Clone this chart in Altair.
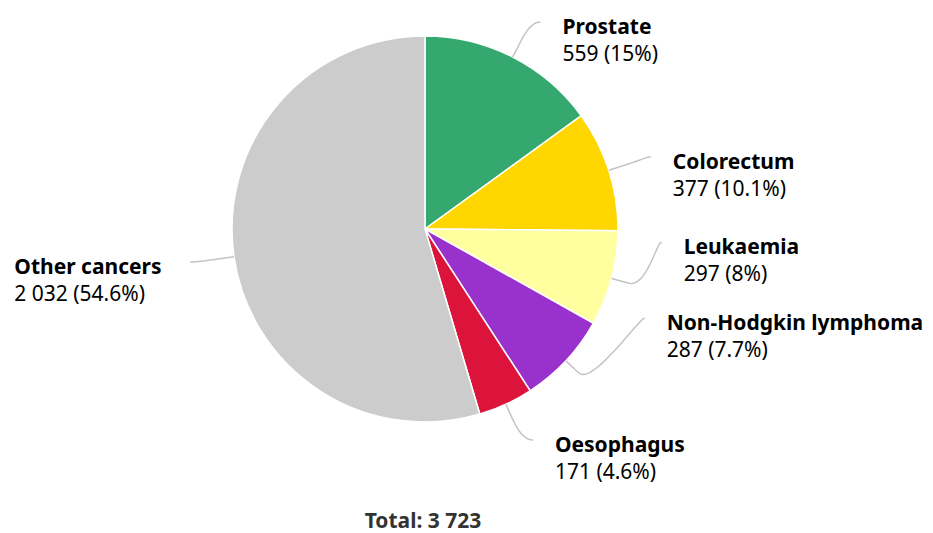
import math
import altair as alt
import pandas as pd

# ---------------- data ----------------
categories = ["Prostate", "Colorectum", "Leukaemia", "Non-Hodgkin lymphoma", "Oesophagus", "Other cancers"]
counts = [559, 377, 297, 287, 171, 2032]
count_labels = ["559", "377", "297", "287", "171", "2 032"]
percent_labels = ["15%", "10.1%", "8%", "7.7%", "4.6%", "54.6%"]
total_label = "Total: 3 723"

# ---------------- style / layout ----------------
colors = ["#34a86e", "#ffd600", "#ffffa0", "#9932cc", "#dc143c", "#cccccc"]
W, H = 917, 525
CX, CY, R = 417, 221, 193
LABEL_DIST = 44          # distance of label anchors from pie edge
BREAK = 18               # connector break distance outside edge
label_anchor_y = [14, 149, 234, 310, 432, 254]   # label rows after collision spreading
LEFT_BLOCK_W = 157
FONT = "Noto Sans"
FS = 21

df = pd.DataFrame({
    "cat": categories,
    "count": counts,
    "idx": list(range(len(categories))),
})

# connector + label geometry derived from the slice angles
total = sum(counts)
cum = 0.0
line_rows, lab_rows = [], []
for i, (c, v) in enumerate(zip(categories, counts)):
    mid = (cum + v / 2) / total * 2 * math.pi
    cum += v
    sx, sy = math.sin(mid), -math.cos(mid)
    tx, ty = CX + R * sx, CY + R * sy
    bx, by = CX + (R + BREAK) * sx, CY + (R + BREAK) * sy
    ly = label_anchor_y[i]
    left = sx < 0
    rl = R + LABEL_DIST
    dx = math.sqrt(max(rl ** 2 - (ly - CY) ** 2, 0))
    lx = CX - dx if left else CX + dx
    c1x = lx + (5 if left else -5)
    c1y = ly
    c2x, c2y = 2 * bx - tx, 2 * by - ty
    n = 16
    k = 0
    for j in range(n + 1):
        t = j / n
        px = (1 - t) ** 3 * lx + 3 * (1 - t) ** 2 * t * c1x + 3 * (1 - t) * t ** 2 * c2x + t ** 3 * bx
        py = (1 - t) ** 3 * ly + 3 * (1 - t) ** 2 * t * c1y + 3 * (1 - t) * t ** 2 * c2y + t ** 3 * by
        line_rows.append({"cat": c, "k": k, "px": px, "py": py})
        k += 1
    line_rows.append({"cat": c, "k": k, "px": tx, "py": ty})
    textx = (lx - 19 - LEFT_BLOCK_W) if left else (lx + 22)
    lab_rows.append({
        "cat": c,
        "title": c,
        "value": f"{count_labels[i]} ({percent_labels[i]})",
        "tx": textx,
        "ty1": ly + 5.5,
        "ty2": ly + 32.5,
    })

lines_df = pd.DataFrame(line_rows)
labs_df = pd.DataFrame(lab_rows)

pie = alt.Chart(df).mark_arc(outerRadius=R, stroke="white", strokeWidth=1.5).encode(
    theta=alt.Theta("count:Q", stack=True),
    color=alt.Color("cat:N", scale=alt.Scale(domain=categories, range=colors), legend=None),
    order=alt.Order("idx:Q"),
    x=alt.value(CX),
    y=alt.value(CY),
)

connectors = alt.Chart(lines_df).mark_line(color="#c4c4c4", strokeWidth=1.5).encode(
    x=alt.X("px:Q", scale=None, axis=None),
    y=alt.Y("py:Q", scale=None, axis=None),
    detail="cat:N",
    order="k:Q",
)

titles = alt.Chart(labs_df).mark_text(
    align="left", baseline="middle", font=FONT, fontSize=FS, fontWeight="bold", color="#000000"
).encode(
    x=alt.X("tx:Q", scale=None, axis=None),
    y=alt.Y("ty1:Q", scale=None, axis=None),
    text="title:N",
)

values = alt.Chart(labs_df).mark_text(
    align="left", baseline="middle", font=FONT, fontSize=FS, color="#000000"
).encode(
    x=alt.X("tx:Q", scale=None, axis=None),
    y=alt.Y("ty2:Q", scale=None, axis=None),
    text="value:N",
)

total_text = alt.Chart(pd.DataFrame({"t": [total_label]})).mark_text(
    align="center", baseline="middle", font=FONT, fontSize=FS, fontWeight="bold", color="#333333"
).encode(
    x=alt.value(CX - 2),
    y=alt.value(514),
    text="t:N",
)

chart = alt.layer(pie, connectors, titles, values, total_text).properties(
    width=W, height=H, autosize=alt.AutoSizeParams(type="none"), padding=0
).configure_view(strokeWidth=0)

chart.save("out.html", embed_options={"renderer": "svg", "actions": False})
